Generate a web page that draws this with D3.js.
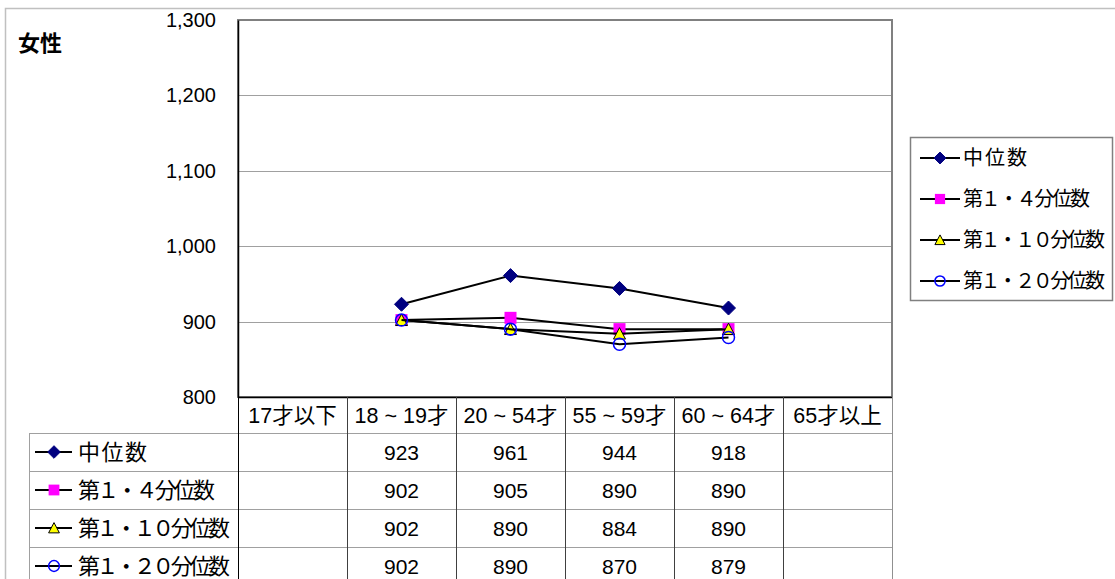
<!DOCTYPE html>
<html><head><meta charset="utf-8">
<script src="https://cdn.jsdelivr.net/npm/d3@7"></script>
<style>
html,body{margin:0;padding:0;background:#fff;}
text{font-family:"Liberation Sans","Noto Sans CJK JP",sans-serif;}
</style></head>
<body><svg id="c" width="1115" height="579"></svg>
<script>
const categories = ["17才以下","18 ~ 19才","20 ~ 54才","55 ~ 59才","60 ~ 64才","65才以上"];
const seriesNames = ["中位数","第１・４分位数","第１・１０分位数","第１・２０分位数"];
const median = [null,923,961,944,918,null];
const q4 = [null,902,905,890,890,null];
const q10 = [null,902,890,884,890,null];
const q20 = [null,902,890,870,879,null];
const yTicks = [800,900,1000,1100,1200,1300];
const title = "女性";

const seriesValues = [median,q4,q10,q20];
const markerTypes = ["diamond","square","triangle","circle"];
const legendTextLen = [64,127,142,142];
const tableTextLen = [69,137,152,152];

const svg = d3.select("#c");
const L=238, R=892, T=20, B=397;
const x = d3.scaleBand().domain(categories).range([L,R]).padding(0);
const y = d3.scaleLinear().domain([800,1300]).range([B,T]);
const fmt = d3.format(",");

// outer chart border
svg.append("path").attr("d","M5.5,579 V8.5 H1115").attr("fill","none").attr("stroke","#c0c0c0").attr("stroke-width",1.5);

// gridlines
svg.append("g").selectAll("line").data(yTicks.filter(v=>v>800&&v<1300)).join("line")
  .attr("x1",L).attr("x2",R).attr("y1",d=>Math.round(y(d))+0.5).attr("y2",d=>Math.round(y(d))+0.5)
  .attr("stroke","#a0a0a0").attr("stroke-width",1);

// plot border
svg.append("rect").attr("x",L).attr("y",T).attr("width",R-L).attr("height",B-T)
  .attr("fill","none").attr("stroke","#808080").attr("stroke-width",2);

// y axis
const yAxis = d3.axisLeft(y).tickValues(yTicks).tickFormat(fmt).tickSize(0).tickPadding(22);
const gy = svg.append("g").attr("transform",`translate(${L},0)`).call(yAxis);
gy.select(".domain").attr("stroke","#000").attr("stroke-width",1.5);
gy.selectAll("text").attr("font-size",20).attr("fill","#000").attr("font-family","Liberation Sans, Arial, sans-serif");

// x axis line
svg.append("line").attr("x1",L).attr("x2",R).attr("y1",B+0.5).attr("y2",B+0.5).attr("stroke","#000").attr("stroke-width",1.5);

// marker drawing
function marker(g, type, cx, cy, scale){
  scale = scale||1;
  if(type==="diamond"){
    const s=7*scale;
    g.append("path").attr("d",`M${cx},${cy-s}L${cx+s},${cy}L${cx},${cy+s}L${cx-s},${cy}Z`).attr("fill","#000080").attr("stroke","#000080");
  } else if(type==="square"){
    const s=6*scale;
    g.append("rect").attr("x",cx-s).attr("y",cy-s).attr("width",2*s).attr("height",2*s).attr("fill","#ff00ff");
  } else if(type==="triangle"){
    const s=6*scale;
    g.append("path").attr("d",`M${cx},${cy-s}L${cx+s},${cy+s*0.9}L${cx-s},${cy+s*0.9}Z`).attr("fill","#ffff00").attr("stroke","#000").attr("stroke-width",1);
  } else {
    g.append("circle").attr("cx",cx).attr("cy",cy).attr("r",6*scale).attr("fill","none").attr("stroke","#0000ff").attr("stroke-width",1.5);
  }
}

// series
const line = d3.line().defined(d=>d.v!=null).x(d=>x(d.c)+x.bandwidth()/2).y(d=>y(d.v));
seriesValues.forEach((vals,i)=>{
  const data = categories.map((c,j)=>({c,v:vals[j]}));
  const g = svg.append("g");
  g.append("path").datum(data).attr("d",line).attr("fill","none").attr("stroke","#000").attr("stroke-width",2);
  data.filter(d=>d.v!=null).forEach(d=>marker(g,markerTypes[i],x(d.c)+x.bandwidth()/2,y(d.v)));
});

// title
svg.append("text").attr("x",18).attr("y",51).attr("font-size",22).attr("font-weight","bold")
  .attr("font-family","Noto Sans CJK JP, sans-serif").text(title);

// legend
const lg = svg.append("g");
lg.append("rect").attr("x",910.5).attr("y",137.5).attr("width",202).attr("height",163).attr("fill","#fff").attr("stroke","#808080").attr("stroke-width",1.5);
seriesNames.forEach((n,i)=>{
  const cy = 158 + i*41;
  lg.append("line").attr("x1",920).attr("x2",960).attr("y1",cy).attr("y2",cy).attr("stroke","#000").attr("stroke-width",2);
  marker(lg,markerTypes[i],940,cy,0.85);
  lg.append("text").attr("x",963).attr("y",cy).attr("dy","0.36em").attr("font-size",20)
    .attr("textLength",legendTextLen[i]).attr("lengthAdjust","spacing").text(n);
});

// data table
const tb = svg.append("g");
const hdrTop=B, hdrBot=433, rowH=38, tblLeft=29;
const rowTops = seriesNames.map((_,i)=>hdrBot+i*rowH);
tb.append("line").attr("x1",tblLeft).attr("x2",R).attr("y1",hdrBot+0.5).attr("y2",hdrBot+0.5).attr("stroke","#a0a0a0");
rowTops.slice(1).forEach(t=>{
  tb.append("line").attr("x1",tblLeft).attr("x2",R).attr("y1",t+0.5).attr("y2",t+0.5).attr("stroke","#a0a0a0");
});
tb.append("line").attr("x1",tblLeft+0.5).attr("x2",tblLeft+0.5).attr("y1",hdrBot).attr("y2",579).attr("stroke","#a0a0a0");
categories.forEach((c,j)=>{
  const xx = Math.round(x(c))+0.5;
  tb.append("line").attr("x1",xx).attr("x2",xx).attr("y1",hdrTop).attr("y2",579).attr("stroke",j===0?"#000":"#404040");
});
tb.append("line").attr("x1",R+0.5).attr("x2",R+0.5).attr("y1",hdrTop).attr("y2",579).attr("stroke","#909090");
tb.selectAll("text.h").data(categories).join("text").attr("class","h")
  .attr("x",d=>x(d)+x.bandwidth()/2).attr("y",(hdrTop+hdrBot)/2).attr("dy","0.36em")
  .attr("text-anchor","middle").attr("font-size",21.5).text(d=>d);
seriesNames.forEach((n,i)=>{
  const cy = rowTops[i]+rowH/2;
  tb.append("line").attr("x1",35).attr("x2",72).attr("y1",cy).attr("y2",cy).attr("stroke","#000").attr("stroke-width",2);
  marker(tb,markerTypes[i],54,cy,0.9);
  tb.append("text").attr("x",78).attr("y",cy).attr("dy","0.36em").attr("font-size",22)
    .attr("textLength",tableTextLen[i]).attr("lengthAdjust","spacing").text(n);
  categories.forEach((c,j)=>{
    const v = seriesValues[i][j];
    if(v!=null) tb.append("text").attr("x",x(c)+x.bandwidth()/2).attr("y",cy).attr("dy","0.36em")
      .attr("text-anchor","middle").attr("font-size",21).text(fmt(v));
  });
});
</script></body></html>
